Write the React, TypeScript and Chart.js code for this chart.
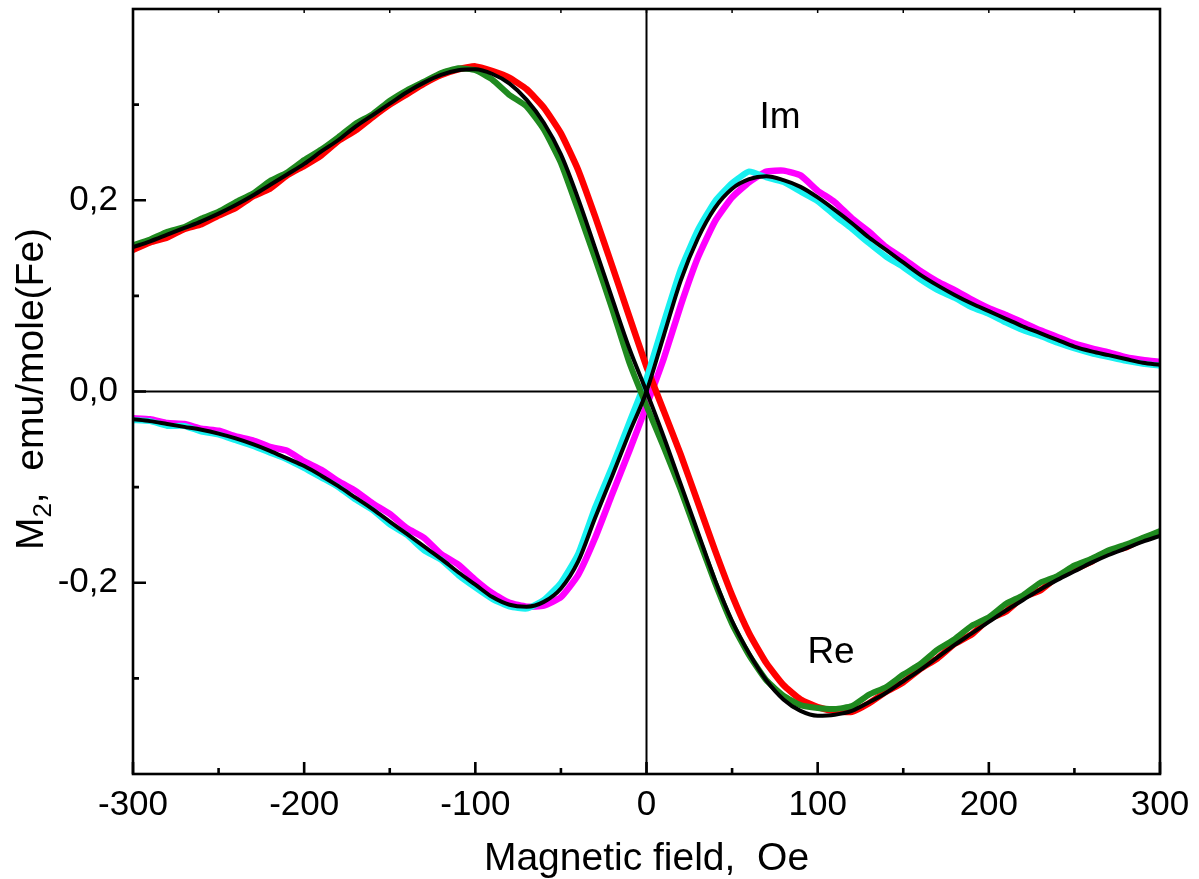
import React, { useEffect, useRef } from 'react';
import { Chart, registerables } from 'chart.js';

Chart.register(...registerables);

// Magnetic field (Oe)
const FIELD = [
  -300, -290, -280, -270, -260, -250, -240, -230, -220, -210,
  -200, -190, -180, -170, -160, -150, -140, -130, -120, -110,
  -100, -90, -80, -70, -60, -50, -40, -30, -20, -10, 0,
  10, 20, 30, 40, 50, 60, 70, 80, 90, 100,
  110, 120, 130, 140, 150, 160, 170, 180, 190, 200,
  210, 220, 230, 240, 250, 260, 270, 280, 290, 300,
];

// Re part: fit (black), measured (red, green)
const RE_FIT = [
  0.151, 0.157, 0.164, 0.171, 0.178, 0.186, 0.195, 0.205, 0.216, 0.227,
  0.238, 0.251, 0.263, 0.277, 0.289, 0.301, 0.313, 0.323, 0.331, 0.336,
  0.337, 0.332, 0.322, 0.305, 0.281, 0.248, 0.202, 0.150, 0.097, 0.045, 0,
  -0.047, -0.097, -0.147, -0.197, -0.240, -0.274, -0.302, -0.322, -0.334, -0.339,
  -0.338, -0.334, -0.325, -0.315, -0.303, -0.291, -0.278, -0.265, -0.253, -0.241,
  -0.229, -0.218, -0.207, -0.197, -0.188, -0.179, -0.171, -0.164, -0.157, -0.151,
];
const RE_RED = [
  0.148, 0.156, 0.161, 0.170, 0.175, 0.184, 0.192, 0.204, 0.212, 0.226,
  0.236, 0.247, 0.262, 0.273, 0.287, 0.300, 0.311, 0.322, 0.331, 0.337,
  0.340, 0.335, 0.328, 0.316, 0.297, 0.270, 0.232, 0.183, 0.131, 0.078, 0.026,
  -0.020, -0.066, -0.116, -0.166, -0.213, -0.253, -0.284, -0.307, -0.322, -0.330,
  -0.334, -0.335, -0.326, -0.314, -0.304, -0.290, -0.279, -0.264, -0.254, -0.238,
  -0.230, -0.215, -0.208, -0.194, -0.186, -0.178, -0.167, -0.163, -0.154, -0.147,
];
const RE_GREEN = [
  0.153, 0.159, 0.167, 0.172, 0.181, 0.188, 0.198, 0.207, 0.220, 0.229,
  0.242, 0.253, 0.266, 0.280, 0.290, 0.304, 0.315, 0.324, 0.333, 0.338,
  0.336, 0.326, 0.310, 0.298, 0.274, 0.239, 0.190, 0.139, 0.086, 0.030, -0.015,
  -0.058, -0.103, -0.152, -0.200, -0.243, -0.276, -0.302, -0.318, -0.328, -0.331,
  -0.332, -0.329, -0.317, -0.309, -0.296, -0.285, -0.270, -0.259, -0.245, -0.236,
  -0.222, -0.213, -0.200, -0.193, -0.182, -0.175, -0.166, -0.160, -0.153, -0.146,
];

// Im part: fit (black), measured (magenta, cyan)
const IM_FIT = [
  -0.029, -0.031, -0.034, -0.037, -0.040, -0.044, -0.049, -0.055, -0.062, -0.070,
  -0.078, -0.088, -0.099, -0.111, -0.123, -0.136, -0.149, -0.162, -0.175, -0.189,
  -0.202, -0.215, -0.223, -0.225, -0.220, -0.206, -0.178, -0.132, -0.088, -0.043, 0,
  0.058, 0.116, 0.160, 0.192, 0.212, 0.222, 0.225, 0.221, 0.214, 0.203,
  0.190, 0.176, 0.161, 0.148, 0.135, 0.122, 0.111, 0.101, 0.092, 0.084,
  0.076, 0.068, 0.061, 0.054, 0.047, 0.042, 0.038, 0.034, 0.030, 0.028,
];
const IM_MAGENTA = [
  -0.028, -0.029, -0.033, -0.034, -0.039, -0.041, -0.047, -0.051, -0.058, -0.062,
  -0.073, -0.082, -0.094, -0.104, -0.117, -0.128, -0.143, -0.153, -0.170, -0.181,
  -0.197, -0.211, -0.221, -0.225, -0.224, -0.215, -0.192, -0.153, -0.107, -0.062, -0.015,
  0.034, 0.090, 0.140, 0.178, 0.203, 0.219, 0.230, 0.231, 0.226, 0.210,
  0.198, 0.181, 0.167, 0.151, 0.139, 0.126, 0.115, 0.106, 0.096, 0.087,
  0.080, 0.072, 0.064, 0.057, 0.050, 0.045, 0.041, 0.036, 0.033, 0.031,
];
const IM_CYAN = [
  -0.030, -0.031, -0.036, -0.036, -0.042, -0.045, -0.051, -0.057, -0.064, -0.071,
  -0.080, -0.090, -0.100, -0.113, -0.124, -0.139, -0.150, -0.166, -0.176, -0.192,
  -0.205, -0.217, -0.225, -0.227, -0.218, -0.200, -0.170, -0.121, -0.078, -0.032, 0.014,
  0.072, 0.128, 0.169, 0.199, 0.218, 0.230, 0.224, 0.219, 0.209, 0.199,
  0.184, 0.170, 0.155, 0.141, 0.130, 0.117, 0.106, 0.098, 0.088, 0.081,
  0.072, 0.064, 0.058, 0.051, 0.045, 0.040, 0.036, 0.032, 0.029, 0.027,
];

const X_TICKS = [-300, -200, -100, 0, 100, 200, 300];
const X_MINOR_TICKS = [-250, -150, -50, 50, 150, 250];
const Y_TICKS = [-0.2, 0, 0.2];
const Y_MINOR_TICKS = [-0.3, -0.1, 0.1, 0.3];

const X_TITLE = 'Magnetic field,  Oe';
const Y_TITLE_MAIN = 'M';
const Y_TITLE_SUB = '2';
const Y_TITLE_REST = ',  emu/mole(Fe)';
const LABEL_IM = 'Im';
const LABEL_RE = 'Re';

const FONT = "'Liberation Sans', Arial, Helvetica, sans-serif";

const pts = (ys: number[]) => FIELD.map((x, i) => ({ x, y: ys[i] }));

const decorPlugin = {
  id: 'decor',
  beforeDatasetsDraw(chart: any) {
    const { ctx, chartArea: a, scales } = chart;
    const x0 = scales.x.getPixelForValue(0);
    const y0 = scales.y.getPixelForValue(0);
    ctx.save();
    ctx.strokeStyle = '#000';
    ctx.lineWidth = 2;
    ctx.beginPath();
    ctx.moveTo(a.left, y0);
    ctx.lineTo(a.right, y0);
    ctx.moveTo(x0, a.top);
    ctx.lineTo(x0, a.bottom);
    ctx.stroke();
    ctx.restore();
  },
  afterDatasetsDraw(chart: any) {
    const { ctx, chartArea: a, scales } = chart;
    const xs = scales.x;
    const ys = scales.y;
    ctx.save();
    ctx.strokeStyle = '#000';
    ctx.lineWidth = 2.6;
    ctx.strokeRect(a.left, a.top, a.right - a.left, a.bottom - a.top);
    ctx.beginPath();
    X_TICKS.forEach((v) => {
      const p = xs.getPixelForValue(v);
      ctx.moveTo(p, a.bottom);
      ctx.lineTo(p, a.bottom - 12);
    });
    X_MINOR_TICKS.forEach((v) => {
      const p = xs.getPixelForValue(v);
      ctx.moveTo(p, a.bottom);
      ctx.lineTo(p, a.bottom - 6);
    });
    Y_TICKS.forEach((v) => {
      const p = ys.getPixelForValue(v);
      ctx.moveTo(a.left, p);
      ctx.lineTo(a.left + 13, p);
    });
    Y_MINOR_TICKS.forEach((v) => {
      const p = ys.getPixelForValue(v);
      ctx.moveTo(a.left, p);
      ctx.lineTo(a.left + 6, p);
    });
    ctx.stroke();
    ctx.lineWidth = 1.5;
    ctx.beginPath();
    [...X_TICKS, ...X_MINOR_TICKS].forEach((v) => {
      const p = xs.getPixelForValue(v);
      ctx.moveTo(p, a.top);
      ctx.lineTo(p, a.top + 4);
    });
    ctx.stroke();
    ctx.restore();
  },
  afterDraw(chart: any) {
    const { ctx, chartArea: a, scales } = chart;
    ctx.save();
    ctx.fillStyle = '#000';
    ctx.font = `39px ${FONT}`;
    ctx.textAlign = 'center';
    ctx.textBaseline = 'alphabetic';
    ctx.fillText(X_TITLE, (a.left + a.right) / 2, 870);
    ctx.translate(43, 389);
    ctx.rotate(-Math.PI / 2);
    ctx.textAlign = 'left';
    const big = `39px ${FONT}`;
    const small = `26px ${FONT}`;
    ctx.font = big;
    const wM = ctx.measureText(Y_TITLE_MAIN).width;
    const wR = ctx.measureText(Y_TITLE_REST).width;
    ctx.font = small;
    const wS = ctx.measureText(Y_TITLE_SUB).width;
    let x = -(wM + wS + wR) / 2;
    ctx.font = big;
    ctx.fillText(Y_TITLE_MAIN, x, 0);
    x += wM;
    ctx.font = small;
    ctx.fillText(Y_TITLE_SUB, x, 8);
    x += wS;
    ctx.font = big;
    ctx.fillText(Y_TITLE_REST, x, 0);
    ctx.restore();

    ctx.save();
    ctx.fillStyle = '#000';
    ctx.font = `37px ${FONT}`;
    ctx.textAlign = 'left';
    ctx.textBaseline = 'alphabetic';
    ctx.fillText(LABEL_IM, scales.x.getPixelForValue(66), scales.y.getPixelForValue(0.276));
    ctx.fillText(LABEL_RE, scales.x.getPixelForValue(94), scales.y.getPixelForValue(-0.284));
    ctx.restore();
  },
};

const fmt = (v: number) => (Math.abs(v) < 1e-9 ? '0,0' : v.toFixed(1).replace('.', ','));

export default function App() {
  const ref = useRef<HTMLCanvasElement | null>(null);

  useEffect(() => {
    document.body.style.margin = '0';
    const canvas = ref.current;
    if (!canvas) return;
    const chart = new Chart(canvas, {
      type: 'line',
      data: {
        datasets: [
          { label: 'Re fit', data: pts(RE_FIT), borderColor: '#000000', borderWidth: 4, pointRadius: 0, cubicInterpolationMode: 'monotone', order: 0 },
          { label: 'Im fit', data: pts(IM_FIT), borderColor: '#000000', borderWidth: 4, pointRadius: 0, cubicInterpolationMode: 'monotone', order: 0 },
          { label: 'Re green', data: pts(RE_GREEN), borderColor: '#1f8a1f', borderWidth: 6, pointRadius: 0, tension: 0.15, order: 1 },
          { label: 'Im cyan', data: pts(IM_CYAN), borderColor: '#19f0f0', borderWidth: 6, pointRadius: 0, tension: 0.15, order: 2 },
          { label: 'Re red', data: pts(RE_RED), borderColor: '#ff0000', borderWidth: 6.5, pointRadius: 0, tension: 0.15, order: 3 },
          { label: 'Im magenta', data: pts(IM_MAGENTA), borderColor: '#ff00ff', borderWidth: 6.5, pointRadius: 0, tension: 0.15, order: 4 },
        ],
      },
      options: {
        animation: false,
        responsive: false,
        maintainAspectRatio: false,
        layout: { padding: { top: 9, right: 39, left: 0, bottom: 0 } },
        plugins: { legend: { display: false }, tooltip: { enabled: false } },
        scales: {
          x: {
            type: 'linear',
            min: -300,
            max: 300,
            border: { display: false },
            grid: { display: false, drawTicks: false },
            afterBuildTicks: (s: any) => {
              s.ticks = X_TICKS.map((value) => ({ value }));
            },
            afterFit: (s: any) => {
              s.height = 105;
              s.paddingLeft = 0;
              s.paddingRight = 0;
            },
            ticks: {
              color: '#000',
              padding: 10,
              maxRotation: 0,
              autoSkip: false,
              font: { family: FONT, size: 35 },
              callback: (v: any) => String(v),
            },
          },
          y: {
            type: 'linear',
            min: -0.4,
            max: 0.4,
            border: { display: false },
            grid: { display: false, drawTicks: false },
            afterBuildTicks: (s: any) => {
              s.ticks = Y_TICKS.map((value) => ({ value }));
            },
            afterFit: (s: any) => {
              s.width = 133;
              s.paddingTop = 0;
              s.paddingBottom = 0;
            },
            ticks: {
              color: '#000',
              padding: 15,
              autoSkip: false,
              font: { family: FONT, size: 35 },
              callback: (v: any) => fmt(Number(v)),
            },
          },
        },
      },
      plugins: [decorPlugin],
    });
    return () => chart.destroy();
  }, []);

  return (
    <div style={{ width: 1199, height: 879, background: '#fff' }}>
      <canvas ref={ref} width={1199} height={879} style={{ display: 'block' }} />
    </div>
  );
}
